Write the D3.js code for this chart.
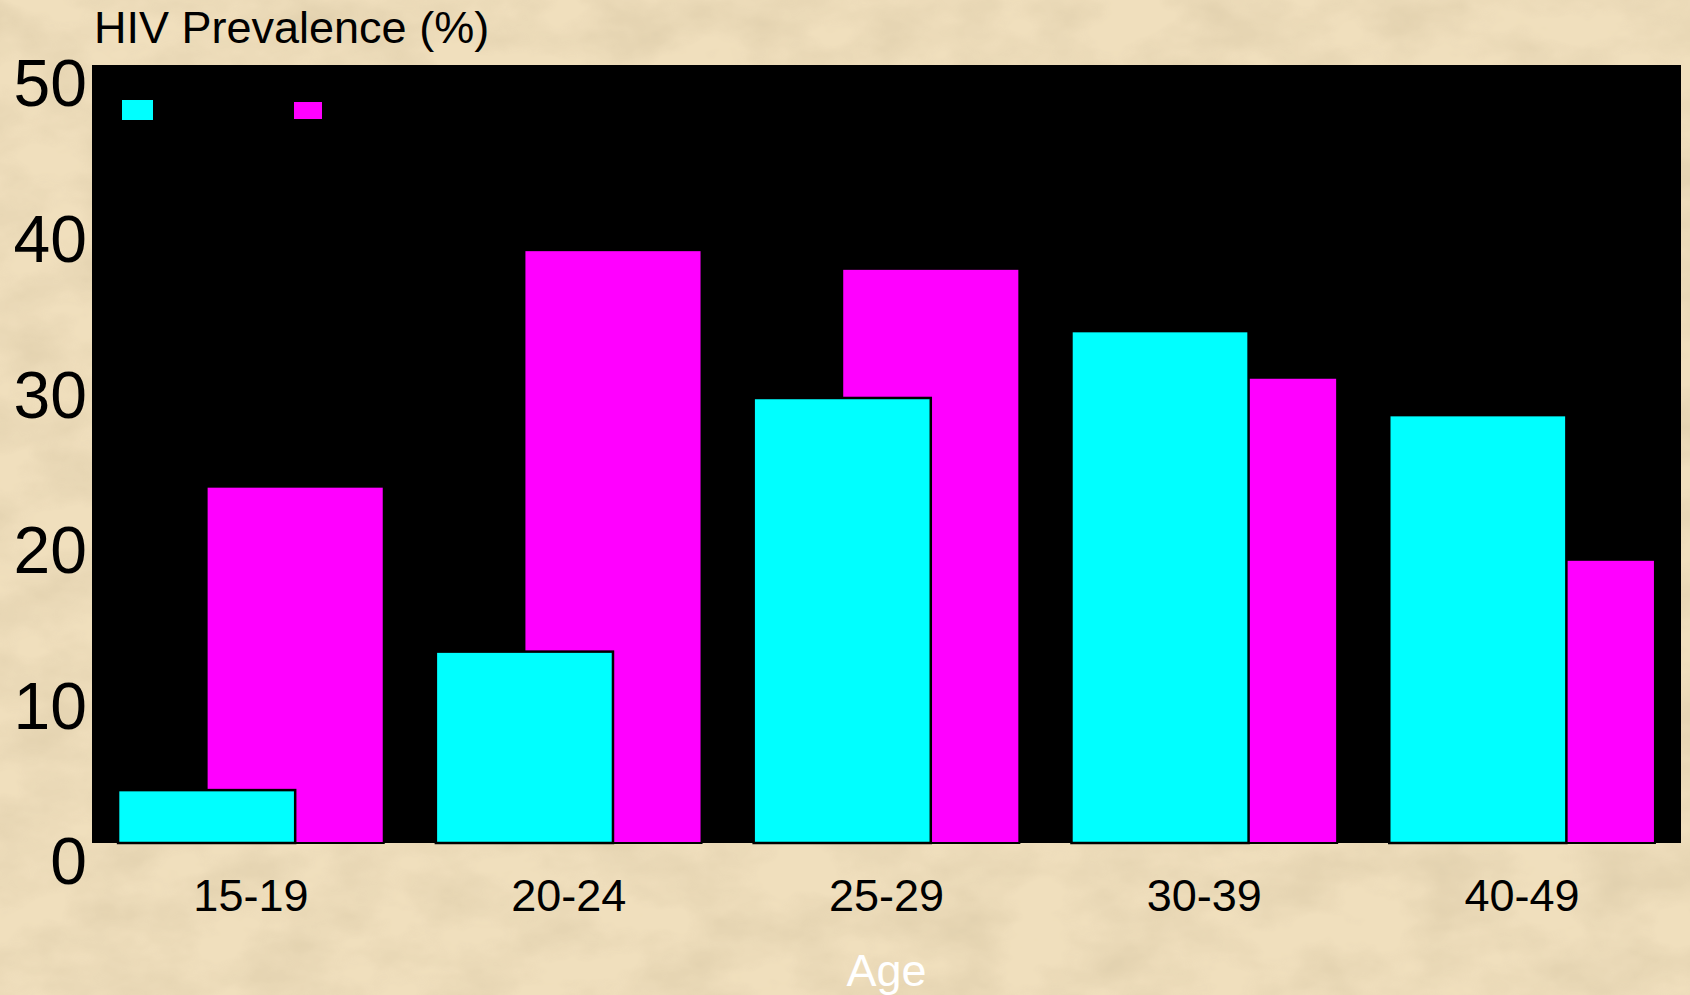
<!DOCTYPE html>
<html>
<head>
<meta charset="utf-8">
<script src="https://cdn.jsdelivr.net/npm/d3@7"></script>
<style>
  html, body { margin: 0; padding: 0; overflow: hidden; }
  svg { display: block; font-family: "Liberation Sans", Arial, sans-serif; }
</style>
</head>
<body>
<svg id="chart" width="1690" height="995"></svg>
<script>
// data
const ageGroups = ["15-19", "20-24", "25-29", "30-39", "40-49"];
const cyanValues = [3.4, 12.3, 28.6, 32.9, 27.5];
const magentaValues = [22.9, 38.1, 36.9, 29.9, 18.2];
const yTicks = [0, 10, 20, 30, 40, 50];

const W = 1690, H = 995;
const plot = {left: 92, top: 65, right: 1681, bottom: 843};

const svg = d3.select("#chart");

// parchment background
const defs = svg.append("defs");
const tex = defs.append("filter").attr("id", "paper")
    .attr("x", 0).attr("y", 0).attr("width", "100%").attr("height", "100%");
tex.append("feTurbulence")
    .attr("type", "fractalNoise")
    .attr("baseFrequency", "0.012 0.02")
    .attr("numOctaves", 4)
    .attr("seed", 7)
    .attr("result", "noise");
tex.append("feColorMatrix")
    .attr("in", "noise")
    .attr("type", "matrix")
    .attr("values", "0 0 0 0 0.55  0 0 0 0 0.45  0 0 0 0 0.28  0 0 0 -1.6 1.05")
    .attr("result", "tint");
tex.append("feComposite").attr("in", "tint").attr("in2", "SourceGraphic").attr("operator", "in");

svg.append("rect").attr("width", W).attr("height", H).style("fill", "#f0dfbd");
svg.append("rect").attr("width", W).attr("height", H)
    .style("fill", "#fff")
    .attr("filter", "url(#paper)")
    .style("opacity", 0.35);

// scales
const x = d3.scaleBand()
    .domain(ageGroups)
    .range([plot.left, plot.right])
    .paddingInner(0.164)
    .paddingOuter(0.082);

const y = d3.scaleLinear()
    .domain([0, 50])
    .range([plot.bottom, plot.top]);

// black plot area
svg.append("rect")
    .attr("x", plot.left)
    .attr("y", plot.top)
    .attr("width", plot.right - plot.left)
    .attr("height", plot.bottom - plot.top)
    .style("fill", "#000");

const barW = x.bandwidth() * 2 / 3;

// magenta first, cyan overlaps it
svg.append("g").selectAll("rect")
    .data(magentaValues)
    .enter().append("rect")
    .attr("x", function (d, i) { return x(ageGroups[i]) + x.bandwidth() / 3; })
    .attr("y", function (d) { return y(d); })
    .attr("width", barW)
    .attr("height", function (d) { return y(0) - y(d); })
    .style("fill", "#ff00ff")
    .style("stroke", "#000")
    .style("stroke-width", 2);

svg.append("g").selectAll("rect")
    .data(cyanValues)
    .enter().append("rect")
    .attr("x", function (d, i) { return x(ageGroups[i]); })
    .attr("y", function (d) { return y(d); })
    .attr("width", barW)
    .attr("height", function (d) { return y(0) - y(d); })
    .style("fill", "#00ffff")
    .style("stroke", "#000")
    .style("stroke-width", 2.5);

// legend swatches (labels are black on black in the original)
svg.append("rect").attr("x", 122).attr("y", 100).attr("width", 31).attr("height", 20).style("fill", "#00ffff");
svg.append("rect").attr("x", 294).attr("y", 102).attr("width", 28).attr("height", 17).style("fill", "#ff00ff");

// y axis labels
const yAxis = svg.append("g")
    .attr("transform", "translate(" + (plot.left - 5) + ",0)")
    .call(d3.axisLeft(y).tickValues(yTicks).tickSize(0).tickPadding(0));
yAxis.select(".domain").remove();
yAxis.selectAll("text")
    .attr("dy", "0.62em")
    .style("font-size", "66px")
    .style("font-family", "Liberation Sans, Arial, sans-serif")
    .style("fill", "#000");

// x axis labels
const xAxis = svg.append("g")
    .attr("transform", "translate(0," + plot.bottom + ")")
    .call(d3.axisBottom(x).tickSize(0).tickPadding(0));
xAxis.select(".domain").remove();
xAxis.selectAll("text")
    .attr("y", 68)
    .attr("dy", 0)
    .style("font-size", "45px")
    .style("font-family", "Liberation Sans, Arial, sans-serif")
    .style("fill", "#000");

// titles
svg.append("text")
    .attr("x", 94)
    .attr("y", 43)
    .style("font-size", "45px")
    .style("fill", "#000")
    .text("HIV Prevalence (%)");

svg.append("text")
    .attr("x", (plot.left + plot.right) / 2)
    .attr("y", 986)
    .attr("text-anchor", "middle")
    .style("font-size", "45px")
    .style("fill", "#fff")
    .text("Age");
</script>
</body>
</html>
